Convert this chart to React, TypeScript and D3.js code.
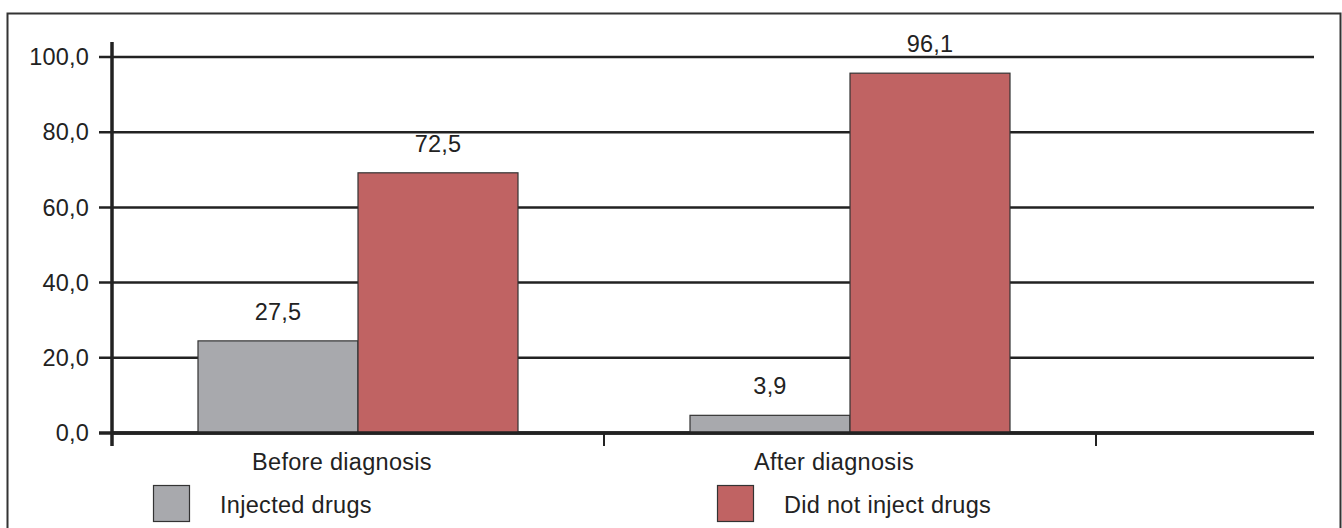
import React from "react";
import * as d3 from "d3";

const categories = ["Before diagnosis", "After diagnosis", ""];
const seriesNames = ["Injected drugs", "Did not inject drugs"];
const seriesColors = ["#a8a9ad", "#c06363"];
// bar heights as drawn in the picture
const injectedBars = [24.5, 4.7];
const notInjectedBars = [69.2, 95.7];
// value labels as printed
const injectedLabels = ["27,5", "3,9"];
const notInjectedLabels = ["72,5", "96,1"];
const yTicks = [0, 20, 40, 60, 80, 100];

const W = 1342;
const H = 528;
const FONT = "'Liberation Sans', Arial, Helvetica, sans-serif";

export default function App() {
  const y = d3.scaleLinear().domain([0, 100]).range([433, 57]);
  const x = d3.scaleBand<string>().domain(categories).range([112, 112 + 492 * 3]).padding(0);
  const bw = x.bandwidth();
  const groupW = 320;
  const inner = d3.scaleBand<number>().domain([0, 1]).range([0, groupW]).padding(0);
  const fmt = (v: number) => d3.format(".1f")(v).replace(".", ",");
  const xEnd = 1314;

  const seriesBars = [injectedBars, notInjectedBars];
  const seriesLabels = [injectedLabels, notInjectedLabels];

  return (
    <svg width={W} height={H} style={{ position: "absolute", left: 0, top: 0, background: "#fff" }} fontFamily={FONT}>
      <rect x={7.5} y={13.5} width={1333} height={530} fill="none" stroke="#333" strokeWidth={2} />
      {/* gridlines & y ticks */}
      {yTicks.map((t) => (
        <g key={t}>
          <line x1={99} x2={xEnd} y1={y(t)} y2={y(t)} stroke="#222" strokeWidth={t === 0 ? 3.5 : 2.5} />
          <text x={89} y={y(t)} dy="0.35em" textAnchor="end" fontSize={23.5} letterSpacing={0.2} fill="#222">
            {fmt(t)}
          </text>
        </g>
      ))}
      {/* bars */}
      {categories.slice(0, 2).map((c, ci) => {
        const gx = (x(c) as number) + (bw - groupW) / 2;
        return (
          <g key={c}>
            {seriesBars.map((vals, si) => {
              const bx = gx + (inner(si) as number);
              const by = y(vals[ci]);
              return (
                <g key={si}>
                  <rect x={bx} y={by} width={inner.bandwidth()} height={y(0) - by} fill={seriesColors[si]} stroke="#333" strokeWidth={1.2} />
                  <text x={bx + inner.bandwidth() / 2} y={by - 21} textAnchor="middle" fontSize={23.5} letterSpacing={0.2} fill="#222">
                    {seriesLabels[si][ci]}
                  </text>
                </g>
              );
            })}
            <text x={gx + groupW / 2 - 16} y={470} textAnchor="middle" fontSize={23.5} letterSpacing={0.3} fill="#222">
              {c}
            </text>
          </g>
        );
      })}
      {/* x axis */}
      <line x1={112} x2={xEnd} y1={y(0)} y2={y(0)} stroke="#222" strokeWidth={3.5} />
      {categories.slice(1).map((c) => (
        <line key={c} x1={x(c) as number} x2={x(c) as number} y1={y(0)} y2={446} stroke="#222" strokeWidth={2} />
      ))}
      {/* y axis */}
      <line x1={112} x2={112} y1={42} y2={446} stroke="#222" strokeWidth={3.5} />
      {/* legend */}
      {seriesNames.map((n, i) => {
        const lx = [153, 717][i];
        return (
          <g key={n}>
            <rect x={lx + 0.5} y={485.5} width={36} height={36} fill={seriesColors[i]} stroke="#333" strokeWidth={1.2} />
            <text x={lx + 67} y={513} fontSize={23.5} letterSpacing={0.3} fill="#222">
              {n}
            </text>
          </g>
        );
      })}
    </svg>
  );
}
